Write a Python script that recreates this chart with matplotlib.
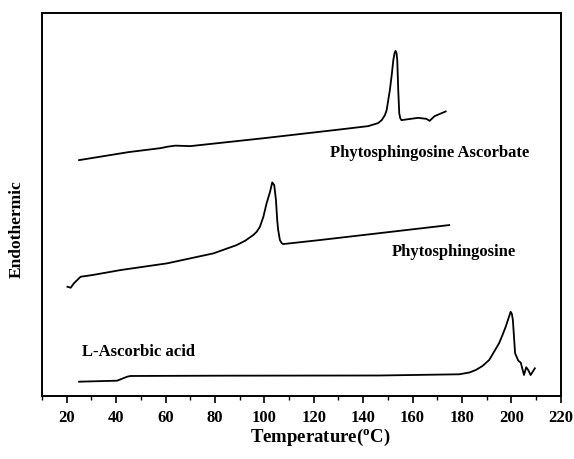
import numpy as np
import matplotlib.pyplot as plt
from matplotlib.ticker import MultipleLocator


# Curves (temperature in C, heat flow in arbitrary units)
temp_asc_salt = [25, 45, 58, 61, 64, 70, 100, 130, 142, 146, 147.5, 148.8,
                 149.5, 150.8, 151.6, 152.2, 152.7, 153.1, 153.5, 153.8,
                 154.2, 154.6, 155.0, 155.5, 157.5, 162.2, 165.6, 166.9,
                 168.9, 173.4]
flow_asc_salt = [236, 244, 248, 249.5, 250.5, 250, 258, 266.5, 270, 273, 276,
                 281, 286, 306, 322, 336, 343, 345.3, 343, 336, 306, 283, 278,
                 276, 276.7, 278.3, 277.3, 275.3, 280, 284.7]

temp_phyto = [20.3, 21.6, 22.9, 25.6, 30.4, 41.8, 60.6, 79.4, 88.8, 92.2,
              95.5, 96.9, 98.2, 99.6, 100.9, 102.3, 103.2, 104.0, 104.7,
              105.2, 105.6, 106.3, 107.0, 107.6, 122.4, 174.8]
flow_phyto = [109.3, 108.3, 112.7, 119.3, 121, 126, 132.7, 142.7, 151, 155.3,
              161, 164.3, 169.3, 179.3, 192.7, 204.3, 213.7, 211, 196,
              176, 166, 156, 153, 152, 156, 171]

temp_ascorbic = [25, 40.4, 44.5, 45.8, 82.1, 146.6, 178.9, 183, 185.6, 188.3,
                 191, 193, 195, 196.4, 197.7, 199.0, 199.7, 200.2, 200.6,
                 201.5, 202.8, 203.8, 205.1, 206, 206.8, 207.8, 209.5]
flow_ascorbic = [14.3, 15.3, 19.3, 20, 20.3, 20.5, 21.7, 23.5, 26, 30, 36,
                 44.3, 52.7, 61, 69.3, 79, 84.3, 82, 76, 42.7, 35.3, 33.3, 21,
                 28.7, 26, 21, 27.7]

labels = ["Phytosphingosine Ascorbate", "Phytosphingosine", "L-Ascorbic acid"]
label_pos = [(126.5, 243), (151.5, 144), (26, 44)]


def main():
    plt.rcParams['font.family'] = ['Liberation Serif', 'DejaVu Serif']
    plt.rcParams['font.weight'] = 'bold'

    fig = plt.figure(figsize=(5.74, 4.59), dpi=100)
    ax = fig.add_axes([0.0732, 0.1373, 0.9038, 0.835])

    for t, f in [(temp_asc_salt, flow_asc_salt),
                 (temp_phyto, flow_phyto),
                 (temp_ascorbic, flow_ascorbic)]:
        ax.plot(t, f, color="black", lw=1.3, solid_joinstyle="round")

    for txt, (x, y) in zip(labels, label_pos):
        ax.text(x, y, txt, fontsize=12, fontweight="bold", va="center",
                ha="left")

    ax.set_xlim(10, 220)
    ax.set_ylim(0, 383.5)
    ax.xaxis.set_major_locator(MultipleLocator(20))
    ax.xaxis.set_minor_locator(MultipleLocator(10))
    ax.set_xticks(np.arange(20, 221, 20))
    ax.tick_params(axis="x", which="major", direction="out", length=5,
                   width=1.2, labelsize=12, pad=5)
    ax.tick_params(axis="x", which="minor", direction="out", length=3,
                   width=1.0)
    ax.set_yticks([])
    for s in ax.spines.values():
        s.set_linewidth(1.4)

    fig.text(320 / 574, 1 - 437 / 459, "Temperature($\\mathregular{^o}$C)",
             fontsize=13.5, fontweight="bold", ha="center", va="center")
    fig.text(17 / 574, 0.5, "Endothermic", fontsize=12.5, fontweight="bold",
             rotation=90, ha="center", va="center")

    fig.savefig("out.png", dpi=100)

    return None


if __name__ == "__main__":
    main()
